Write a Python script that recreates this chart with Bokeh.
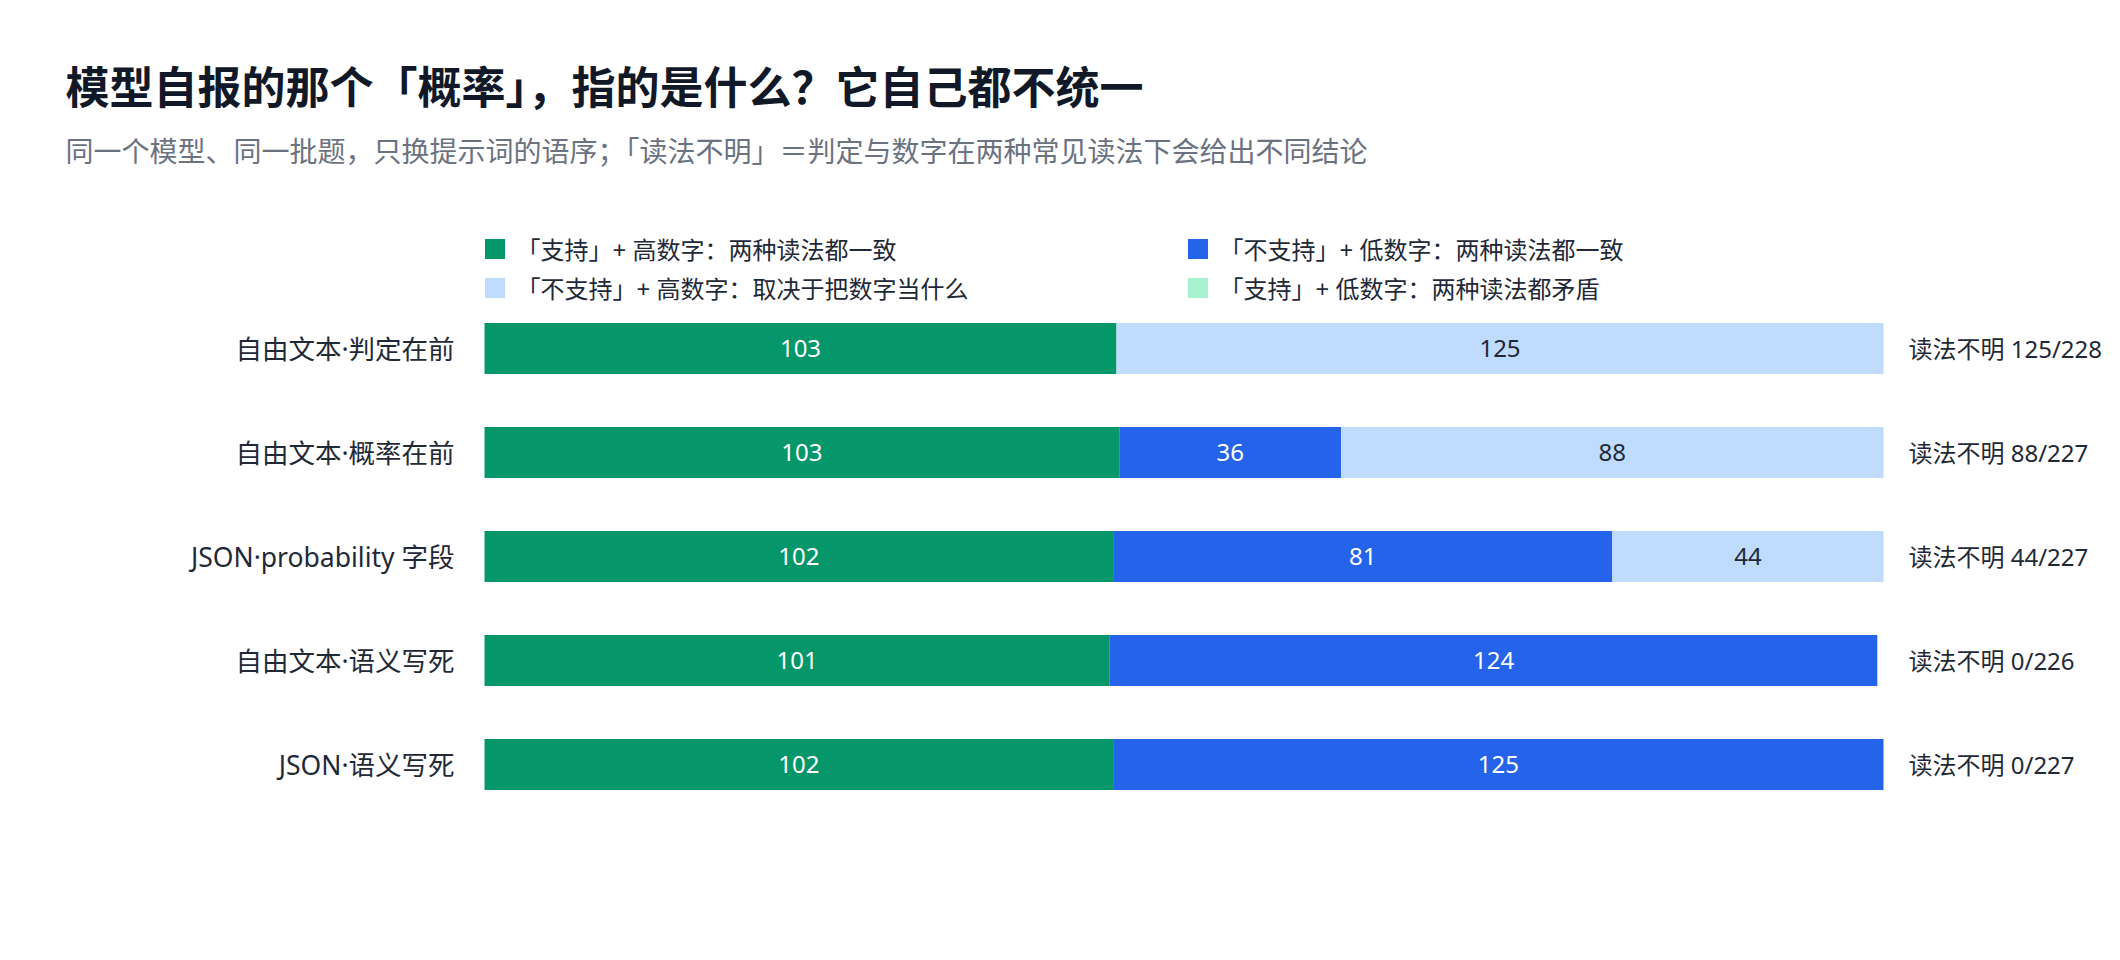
import numpy as np
from bokeh.core.properties import value
from bokeh.embed import file_html
from bokeh.models import ColumnDataSource, Label, Legend, LegendItem, Range1d
from bokeh.plotting import figure
from bokeh.resources import INLINE

FONT = "Noto Sans, Noto Sans CJK SC"

categories = ["自由文本·判定在前", "自由文本·概率在前", "JSON·probability 字段", "自由文本·语义写死", "JSON·语义写死"]
totals = [228, 227, 227, 226, 227]

# series in stacking order
series_names = [
    "「支持」+ 高数字：两种读法都一致",
    "「不支持」+ 低数字：两种读法都一致",
    "「不支持」+ 高数字：取决于把数字当什么",
    "「支持」+ 低数字：两种读法都矛盾",
]
support_high = [103, 103, 102, 101, 102]
nonsupport_low = [0, 36, 81, 124, 125]
nonsupport_high = [125, 88, 44, 0, 0]
support_low = [0, 0, 0, 0, 0]

series_colors = ["#059669", "#2563eb", "#bfdbfe", "#a7f3d0"]
label_colors = ["#ffffff", "#ffffff", "#1f2937", "#1f2937"]

title = "模型自报的那个「概率」，指的是什么？它自己都不统一"
subtitle = "同一个模型、同一批题，只换提示词的语序；「读法不明」＝判定与数字在两种常见读法下会给出不同结论"

# canvas layout (pixels)
W, H = 2104, 940
BAR_LEFT, BAR_RIGHT = 484, 1883   # where share 0 and share 1 fall
ROW0, ROW_STEP = 348, 104         # centre of first row, row pitch

counts = [support_high, nonsupport_low, nonsupport_high, support_low]
keys = ["s0", "s1", "s2", "s3"]
tot = np.array(totals, dtype=float)
rows = np.arange(len(categories))

data = dict(row=rows)
for k, c in zip(keys, counts):
    data[k] = np.array(c) / tot
source = ColumnDataSource(data)

px = 1.0 / (BAR_RIGHT - BAR_LEFT)
x_range = Range1d(-BAR_LEFT * px, (W - BAR_LEFT) * px)
y_range = Range1d((H - ROW0) / ROW_STEP, -ROW0 / ROW_STEP)

p = figure(
    width=W, height=H, x_range=x_range, y_range=y_range,
    output_backend="svg", toolbar_location=None,
    min_border=0, x_axis_type=None, y_axis_type=None,
)
p.outline_line_color = None
p.grid.visible = False

renderers = p.hbar_stack(keys, y="row", height=0.49, color=series_colors, source=source, line_width=0)

# category names
p.text(x=[0] * len(categories), y=rows, text=categories, x_offset=-30,
       text_align="right", text_baseline="middle",
       text_font=value(FONT), text_font_size="26.5px", text_color="#1f2937")

# segment value labels
lx, ly, lt, lc = [], [], [], []
left = np.zeros(len(categories))
for c, col in zip(counts, label_colors):
    share = np.array(c) / tot
    for i, v in enumerate(c):
        if v > 0:
            lx.append(left[i] + share[i] / 2)
            ly.append(rows[i])
            lt.append(str(v))
            lc.append(col)
    left += share
p.text(x="x", y="y", text="t", text_color="c",
       source=ColumnDataSource(dict(x=lx, y=ly, t=lt, c=lc)),
       text_align="center", text_baseline="middle",
       text_font=value(FONT), text_font_size="24px")

# right side annotations
right_text = [f"读法不明 {u}/{n}" for u, n in zip(nonsupport_high, totals)]
p.text(x=[1.0] * len(categories), y=rows, text=right_text,
       x_offset=25, text_align="left", text_baseline="middle",
       text_font=value(FONT), text_font_size="24px", text_color="#1f2937")

legend = Legend(
    items=[LegendItem(label=n, renderers=[r]) for n, r in zip(series_names, renderers)],
    location=(BAR_LEFT - 2.5, H - 305), orientation="horizontal", ncols=2,
    glyph_width=25, glyph_height=25, label_standoff=10,
    label_width=664, label_height=24, spacing=4,
    label_text_font=FONT, label_text_font_size="24px", label_text_color="#1f2937",
    label_text_baseline="middle",
    padding=0, margin=0, border_line_color=None, background_fill_alpha=0,
)
p.add_layout(legend, "center")

p.add_layout(Label(x=65, y=H - 86, x_units="screen", y_units="screen", text=title,
                   text_font=FONT, text_font_size="44px", text_font_style="bold",
                   text_color="#111827", text_baseline="middle"))
p.add_layout(Label(x=65, y=H - 150, x_units="screen", y_units="screen", text=subtitle,
                   text_font=FONT, text_font_size="28px",
                   text_color="#6b7280", text_baseline="middle"))

open("out.html", "w").write(file_html(p, INLINE))
